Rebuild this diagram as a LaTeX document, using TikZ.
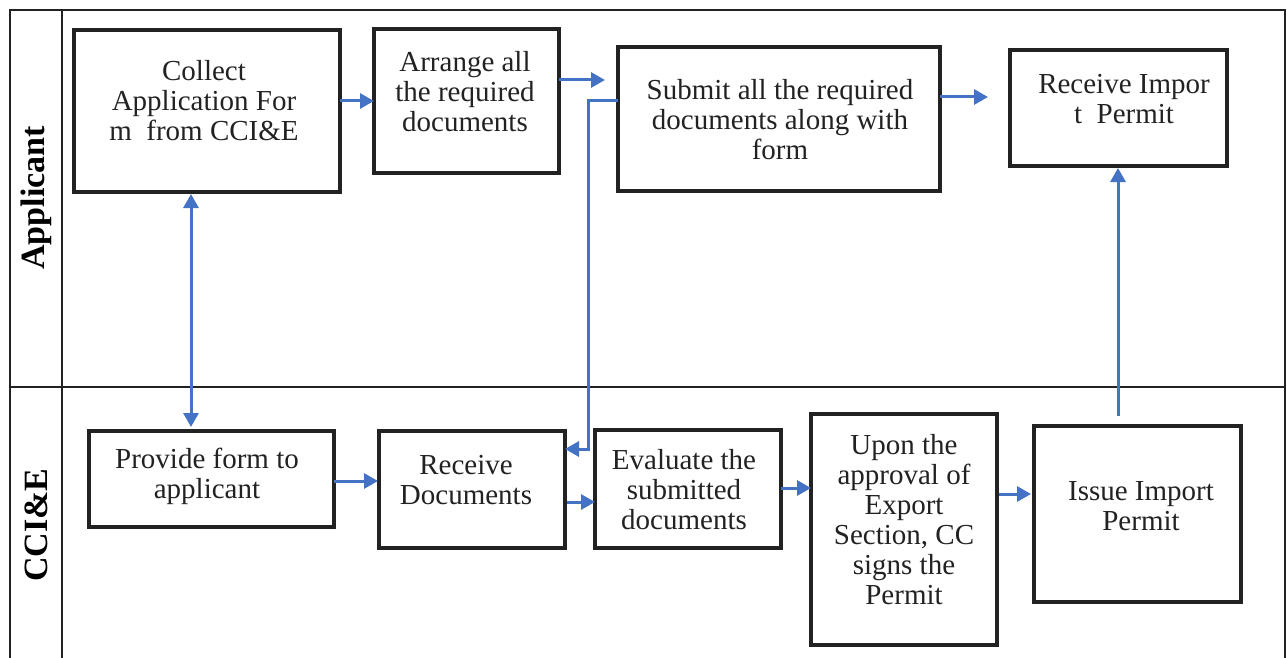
\documentclass[tikz,border=0pt]{standalone}
\usepackage{fontspec}
\setmainfont{Liberation Serif}
\usetikzlibrary{arrows.meta}
\definecolor{arrblue}{HTML}{4472C4}
\definecolor{boxline}{HTML}{222222}
\begin{document}
\begin{tikzpicture}[x=1pt,y=-1pt,
  box/.style={draw=boxline,line width=3.2pt,inner sep=0pt,outer sep=0pt},
  txt/.style={font=\fontsize{29}{30}\selectfont,align=center,text=boxline,inner sep=0pt},
  lanelabel/.style={font=\fontsize{34}{36}\selectfont\bfseries,rotate=90,text=black},
  arr/.style={draw=arrblue,line width=3pt,-{Triangle[length=14pt,width=15pt]}},
  darr/.style={draw=arrblue,line width=3pt,{Triangle[length=14pt,width=15pt]}-{Triangle[length=14pt,width=15pt]}},
  frameline/.style={draw=boxline,line width=1.6pt}]
\useasboundingbox (0,0) rectangle (1287,658);
% frame
\draw[frameline] (10,658) -- (10,10) -- (1285,10) -- (1285,658);
\draw[frameline] (62,10) -- (62,658);
\draw[frameline] (10,387) -- (1285,387);
\node[lanelabel] (lane1) at (36,198) {Applicant};
\node[lanelabel] (lane2) at (36,525) {CCI\&E};
% boxes
\node[box,minimum width=266pt,minimum height=162pt] (collect) at (207,111) {};
\node[box,minimum width=185pt,minimum height=144pt] (arrange) at (466.5,101) {};
\node[box,minimum width=322pt,minimum height=144pt] (submit) at (779,119) {};
\node[box,minimum width=217pt,minimum height=116pt] (recimp) at (1118.5,108) {};
\node[box,minimum width=245pt,minimum height=96pt] (provide) at (211.5,479) {};
\node[box,minimum width=186pt,minimum height=117pt] (recdocs) at (472,489.5) {};
\node[box,minimum width=186pt,minimum height=118pt] (evaluate) at (688,489) {};
\node[box,minimum width=186pt,minimum height=231pt] (upon) at (904,529.5) {};
\node[box,minimum width=207pt,minimum height=176pt] (issue) at (1137.5,514) {};
% texts
\node[txt] (collect-t) at (204,101) {Collect\\Application For\\m\ \ from CCI\&E};
\node[txt] (arrange-t) at (465,92) {Arrange all\\the required\\documents};
\node[txt] (submit-t) at (780,120) {Submit all the required\\documents along with\\form};
\node[txt] (recimp-t) at (1124,99) {Receive Impor\\t\ \ Permit};
\node[txt] (provide-t) at (207,476) {Provide form to\\applicant};
\node[txt] (recdocs-t) at (466,480) {Receive\\Documents};
\node[txt] (evaluate-t) at (684,490) {Evaluate the\\submitted\\documents};
\node[txt] (upon-t) at (904,520) {Upon the\\approval of\\Export\\Section, CC\\signs the\\Permit};
\node[txt] (issue-t) at (1141,506) {Issue Import\\Permit};
% connectors
\coordinate (elbow) at (588,101);
\draw[arr] (collect.east |- 0,101) -- (arrange.west |- 0,101);
\draw[arr,shorten >=13pt] (arrange.east |- 0,80) -- (submit.west |- 0,80);
\draw[arr,shorten >=22pt] (submit.east |- 0,97) -- (recimp.west |- 0,97);
\draw[arr] (submit.west |- elbow) -- (elbow) |- (recdocs.east |- 0,449);
\draw[darr,shorten <=2pt,shorten >=4pt] (collect.south -| 191,0) -- (provide.north -| 191,0);
\draw[arr,shorten <=10pt,shorten >=2pt] (issue.north -| 1118,0) -- (recimp.south -| 1118,0);
\draw[arr,shorten >=1pt] (provide.east |- 0,481) -- (recdocs.west |- 0,481);
\draw[arr,shorten <=2pt] (recdocs.east |- 0,502) -- (evaluate.west |- 0,502);
\draw[arr] (evaluate.east |- 0,488) -- (upon.west |- 0,488);
\draw[arr,shorten <=2pt,shorten >=3pt] (upon.east |- 0,494) -- (issue.west |- 0,494);
\end{tikzpicture}
\end{document}
